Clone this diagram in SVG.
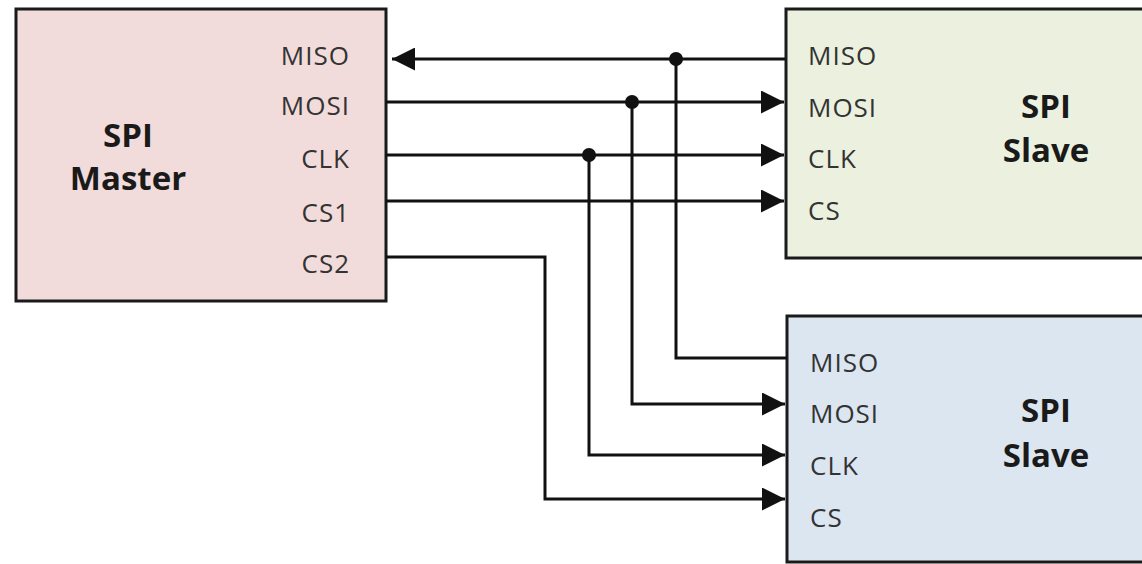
<svg xmlns="http://www.w3.org/2000/svg" width="1142" height="564" viewBox="0 0 1142 564">
<style>
.box{stroke:#1a1a1a;stroke-width:3}
.lbl{font-family:"Open Sans","Noto Sans",sans-serif;font-size:26px;letter-spacing:1px;fill:#333}
.ttl{font-family:"Open Sans","Noto Sans",sans-serif;font-size:33px;font-weight:bold;fill:#1a1a1a;text-anchor:middle}
.w{fill:none;stroke:#111;stroke-width:3}
.dot{fill:#111}
</style>
<defs>
<marker id="ah" viewBox="0 0 10 10" refX="10" refY="5" markerWidth="23" markerHeight="23" markerUnits="userSpaceOnUse" orient="auto">
<path d="M0,0 L10,5 L0,10 z" fill="#111"/>
</marker>
</defs>
<rect width="1142" height="564" fill="#fff"/>
<g id="master">
<rect class="box" x="16" y="9" width="370" height="292" fill="#f2dcdb"/>
<text class="ttl" x="128" y="147">SPI</text>
<text class="ttl" x="128" y="190">Master</text>
<g class="lbl" text-anchor="end">
<text x="350" y="65">MISO</text>
<text x="350" y="115">MOSI</text>
<text x="350" y="168">CLK</text>
<text x="350" y="222">CS1</text>
<text x="350" y="273">CS2</text>
</g>
</g>
<g id="slave1">
<rect class="box" x="786" y="9" width="370" height="249" fill="#ebf1de"/>
<text class="ttl" x="1046" y="118">SPI</text>
<text class="ttl" x="1046" y="162">Slave</text>
<g class="lbl">
<text x="808" y="65">MISO</text>
<text x="808" y="117">MOSI</text>
<text x="808" y="168">CLK</text>
<text x="808" y="220">CS</text>
</g>
</g>
<g id="slave2">
<rect class="box" x="787" y="316" width="370" height="246" fill="#dce6f1"/>
<text class="ttl" x="1046" y="422">SPI</text>
<text class="ttl" x="1046" y="467">Slave</text>
<g class="lbl">
<text x="810" y="372">MISO</text>
<text x="810" y="423">MOSI</text>
<text x="810" y="475">CLK</text>
<text x="810" y="527">CS</text>
</g>
</g>
<g id="connectors">
<path class="w" d="M785,59 L392,59" marker-end="url(#ah)"/>
<path class="w" d="M386,102 L784,102" marker-end="url(#ah)"/>
<path class="w" d="M386,155 L784,155" marker-end="url(#ah)"/>
<path class="w" d="M386,201 L784,201" marker-end="url(#ah)"/>
<path class="w" d="M676,59 L676,358 L787,358"/>
<path class="w" d="M632,102 L632,404 L785,404" marker-end="url(#ah)"/>
<path class="w" d="M589,155 L589,455 L785,455" marker-end="url(#ah)"/>
<path class="w" d="M386,257 L545,257 L545,499 L785,499" marker-end="url(#ah)"/>
<circle class="dot" cx="676" cy="59" r="7"/>
<circle class="dot" cx="632" cy="102" r="7"/>
<circle class="dot" cx="589" cy="155" r="7"/>
</g>
</svg>
